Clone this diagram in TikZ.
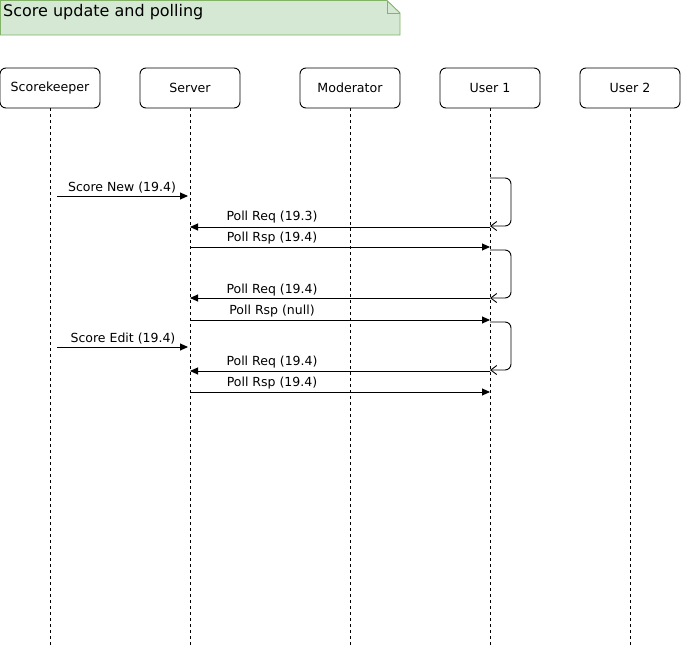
\documentclass[tikz,border=0pt]{standalone}
\usepackage{fontspec}
\setmainfont{DejaVu Sans}
\usetikzlibrary{arrows.meta,shapes.misc}
\definecolor{notefill}{HTML}{D5E8D4}
\definecolor{notedraw}{HTML}{82B366}
\tikzset{
  actor/.style={draw, rounded corners=6pt, minimum width=100pt, minimum height=40pt, font=\fontsize{12.6}{14}\selectfont, inner sep=0pt, line width=0.9pt},
  life/.style={line width=0.7pt, dash pattern=on 3pt off 3pt},
  msg/.style={line width=0.9pt, -{Triangle[length=8pt,width=7pt]}},
  selfmsg/.style={line width=0.9pt, rounded corners=6pt, -{Straight Barb[length=6pt,width=9pt]}},
  lbl/.style={font=\fontsize{12.5}{14}\selectfont, fill=white, inner sep=1pt}
}
\begin{document}
\begin{tikzpicture}[x=1pt,y=-1pt]
\useasboundingbox (0,0) rectangle (681,648);
% note
\draw[fill=notefill, draw=notedraw, line width=0.9pt] (0.5,0.5) -- (387,0.5) -- (400,13) -- (400,35) -- (0.5,35) -- cycle;
\draw[draw=notedraw, line width=0.9pt] (387,0.5) -- (387,13) -- (400,13);
\node[anchor=west, font=\fontsize{16}{18}\selectfont, inner sep=0pt] (title) at (3,12) {Score update and polling};
% actors
\node[actor] (sk) at (50,88) {Scorekeeper};
\node[actor] (sv) at (190,88) {Server};
\node[actor] (md) at (350,88) {Moderator};
\node[actor] (u1) at (490,88) {User 1};
\node[actor] (u2) at (630,88) {User 2};
% lifelines
\foreach \n/\x in {sk/50,sv/190,md/350,u1/490,u2/630}{
  \coordinate (\n end) at (\x,648);
  \draw[life] (\n.south) -- (\n end);
}
% coordinates on lifelines
\coordinate (a1) at (57,196); \coordinate (b1) at (188,196);
\coordinate (a2) at (490,227); \coordinate (b2) at (190,227);
\coordinate (a3) at (190,247); \coordinate (b3) at (490,247);
\coordinate (a4) at (490,298); \coordinate (b4) at (190,298);
\coordinate (a5) at (190,320); \coordinate (b5) at (490,320);
\coordinate (a6) at (57,347); \coordinate (b6) at (188,347);
\coordinate (a7) at (490,371); \coordinate (b7) at (190,371);
\coordinate (a8) at (190,392); \coordinate (b8) at (490,392);
% self loops
\coordinate (l1s) at (490,178); \coordinate (l1e) at (490,226);
\coordinate (l2s) at (490,250); \coordinate (l2e) at (490,298);
\coordinate (l3s) at (490,322); \coordinate (l3e) at (490,370);
\draw[selfmsg] (l1s) -- ++(21,0) |- (l1e);
\draw[selfmsg] (l2s) -- ++(21,0) |- (l2e);
\draw[selfmsg] (l3s) -- ++(21,0) |- (l3e);
% messages
\draw[msg] (a1) -- (b1);
\draw[msg] (a2) -- (b2);
\draw[msg] (a3) -- (b3);
\draw[msg] (a4) -- (b4);
\draw[msg] (a5) -- (b5);
\draw[msg] (a6) -- (b6);
\draw[msg] (a7) -- (b7);
\draw[msg] (a8) -- (b8);
% labels
\node[lbl] (t1) at (122,187.5) {Score New (19.4)};
\node[lbl] (t2) at (272,217.5) {Poll Req (19.3)};
\node[lbl] (t3) at (272,238.5) {Poll Rsp (19.4)};
\node[lbl] (t4) at (272,290.5) {Poll Req (19.4)};
\node[lbl] (t5) at (272,311.5) {Poll Rsp (null)};
\node[lbl] (t6) at (123,338.5) {Score Edit (19.4)};
\node[lbl] (t7) at (272,362.5) {Poll Req (19.4)};
\node[lbl] (t8) at (272,383.5) {Poll Rsp (19.4)};
\end{tikzpicture}
\end{document}
